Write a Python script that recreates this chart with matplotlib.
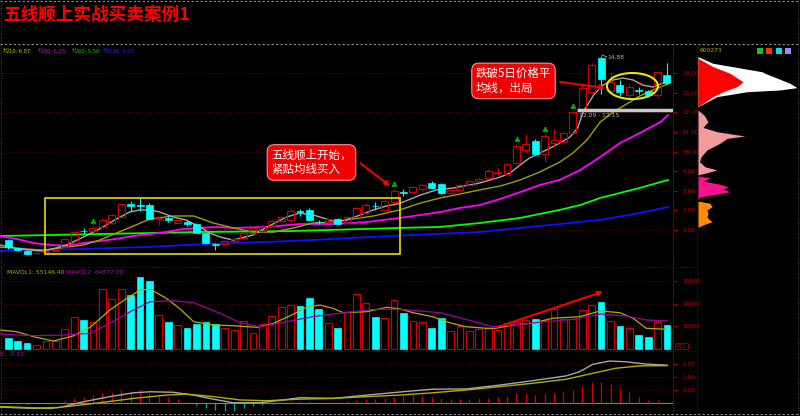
import matplotlib
matplotlib.use('Agg')
import matplotlib.pyplot as plt
from matplotlib.patches import Rectangle, Ellipse
from matplotlib.lines import Line2D

CJK = ['Noto Sans CJK SC', 'DejaVu Sans']
plt.rcParams['font.family'] = ['DejaVu Sans', 'Noto Sans CJK SC']

# ---------------- data ----------------
title = "五线顺上实战买卖案例1"
opens = [5.48,5.08,4.90,4.80,4.88,4.92,5.15,5.35,5.96,5.92,
         6.15,6.36,6.66,7.32,7.26,7.27,6.56,6.60,6.36,6.38,
         6.30,5.84,5.30,5.30,5.42,5.60,5.85,5.95,6.20,6.45,
         6.50,6.94,7.00,6.42,6.40,6.58,6.36,6.68,6.86,7.24,
         7.00,7.40,7.92,7.95,8.10,8.38,8.35,7.88,8.05,8.30,
         8.50,8.65,8.90,8.85,9.40,10.10,10.55,9.88,10.45,10.50,
         10.95,12.10,13.05,14.75,13.10,13.40,12.90,13.15,13.10,12.90,13.90]
highs = [5.55,5.12,4.95,4.88,4.98,4.98,5.58,5.95,6.10,6.20,
         6.62,6.80,7.38,7.45,7.65,7.38,6.70,6.72,6.55,6.50,
         6.35,5.86,5.35,5.48,5.60,5.90,6.15,6.20,6.50,6.70,
         7.08,7.05,7.10,6.50,6.58,6.62,6.70,7.15,7.38,7.42,
         7.50,8.10,8.10,8.25,8.35,8.52,8.40,8.05,8.35,8.55,
         8.70,9.10,9.15,9.40,10.40,10.90,10.62,10.90,11.15,11.00,
         12.05,13.40,14.50,14.88,14.05,13.65,13.50,13.30,13.15,14.10,14.50]
lows = [5.05,4.90,4.72,4.75,4.85,4.88,5.10,5.30,5.82,5.88,
        6.10,6.32,6.62,6.95,6.95,6.55,6.25,6.40,6.30,6.20,
        5.84,5.33,4.97,5.25,5.38,5.55,5.80,5.90,6.15,6.40,
        6.45,6.72,6.48,6.30,6.36,6.28,6.30,6.64,6.80,7.00,
        6.95,7.35,7.75,7.90,8.05,8.12,7.85,7.82,8.00,8.25,
        8.45,8.60,8.80,8.80,9.35,9.95,9.85,9.45,10.30,10.45,
        10.90,12.05,12.95,12.95,13.00,12.85,12.75,12.95,12.80,12.80,13.45]
closes = [5.12,4.95,4.77,4.84,4.94,4.96,5.52,5.88,5.92,6.10,
          6.50,6.76,7.30,7.24,7.20,6.56,6.62,6.52,6.48,6.32,
          5.85,5.35,5.25,5.42,5.55,5.85,6.10,6.15,6.45,6.65,
          6.95,6.90,6.50,6.38,6.55,6.32,6.66,7.10,7.25,7.20,
          7.45,8.00,7.88,8.20,8.30,8.15,7.88,8.02,8.30,8.50,
          8.62,9.00,8.95,9.35,10.30,10.40,9.85,10.80,10.60,10.95,
          12.00,13.25,14.40,13.70,13.55,13.05,13.30,13.10,12.87,14.05,13.50]
volumes = [4700,3700,2800,1800,3500,3500,8700,14200,12800,12000,
           26300,21900,26300,23800,31600,30000,15000,12000,10600,9100,
           10900,11800,11000,9100,8400,12500,7200,11000,14500,18600,
           19400,18900,22300,17600,11600,9400,16400,24200,20400,14200,
           13800,21600,16000,12500,12000,9100,13500,7900,10300,8100,
           8800,9100,8400,11300,12000,12800,13100,12800,17500,13100,
           13100,17200,19400,20600,12300,10300,9400,6200,5400,11800,10600]
macd_hist = [-0.03,-0.04,-0.04,-0.03,-0.01,0.02,0.08,0.16,0.23,0.29,
             0.36,0.42,0.49,0.42,0.49,0.36,0.25,0.20,0.12,0.03,
             -0.10,-0.23,-0.29,-0.32,-0.33,-0.23,-0.14,-0.10,-0.04,0.02,
             0.06,0.07,0.05,0.02,0.03,0.02,0.05,0.10,0.12,0.12,
             0.16,0.20,0.29,0.29,0.25,0.23,0.16,0.13,0.13,0.13,
             0.16,0.18,0.20,0.25,0.36,0.36,0.29,0.36,0.36,0.42,
             0.47,0.64,0.81,0.81,0.71,0.55,0.40,0.23,0.10,0.10,0.03]

ma5_x = [-0.9,1,2.7,3.7,5.1,6.2,8,9.7,11.5,12.9,14,15.1,16.1,17.5,18.9,20.4,21.4,22.5,23.9,
         26,27.5,29.6,31,32.4,33.8,34.9,35.9,37.4,38.8,40.2,41.6,43.8,45.5,47.3,50.1,52.3,
         53.3,54.4,55.4,56.5,57.6,58.6,59.7,60.5,61.1,62.2,63.2,64.3,65.3,66.4,67.4,68.5,69.6,70.3]
ma5_y = [5.23,5.05,4.95,4.92,5.08,5.23,5.64,6.05,6.56,6.91,7.02,7.02,6.91,6.66,6.50,6.15,5.84,5.64,5.48,
         5.74,6.15,6.66,6.86,6.76,6.56,6.40,6.51,6.76,7.02,7.22,7.35,7.78,8.04,8.14,8.39,8.70,
         8.90,9.31,9.67,9.92,10.18,10.43,10.74,11.20,12.02,12.88,13.39,13.65,13.75,13.65,13.39,13.29,13.49,13.65]
ma10_x = [-0.9,3.7,6.2,8,9.7,11.5,13.3,15.1,17.5,19.7,21.8,23.9,26,28.2,30.3,32.4,34.5,36.7,38.8,
          41.6,43.8,45.9,48,50.1,52.3,54.4,56.5,58.6,60,61.5,62.9,64.3,65.7,67.1,68.5,70.1]
ma10_y = [5.12,4.97,5.12,5.23,5.48,5.84,6.20,6.56,6.71,6.71,6.35,6.10,5.89,5.89,6.10,6.35,6.40,6.56,6.71,
          7.02,7.37,7.63,7.83,8.04,8.24,8.55,8.96,9.46,9.92,10.59,11.50,12.02,12.42,12.83,13.14,13.44]
ma30_x = [-0.9,0.9,2.7,4.4,6.2,8,9.7,11.5,13.3,15.1,16.8,18.6,20.4,22.2,23.9,27.5,31,34.5,38.1,
          41.6,43.8,45.9,48,50.1,52.3,54.4,56.5,58.6,60.8,62.9,65,67.1,69.3,70.1]
ma30_y = [5.69,5.54,5.33,5.23,5.20,5.33,5.43,5.54,5.69,5.79,5.89,6.05,6.10,6.15,6.10,6.15,6.30,6.30,6.40,
          6.61,6.76,6.91,7.12,7.27,7.58,7.93,8.29,8.55,9.06,9.72,10.43,10.94,11.50,11.86]
ma60_x = [-0.9,10,20,30,41.6,45.9,50.1,54.4,58.6,60.8,62.9,67.1,70.1]
ma60_y = [5.69,5.79,5.89,5.94,6.10,6.15,6.35,6.61,7.02,7.27,7.63,8.14,8.55]
ma120_x = [-0.9,8,15,21,30,41.6,50.1,58.6,62.9,67.1,70.1]
ma120_y = [4.92,5.03,5.13,5.28,5.43,5.71,5.89,6.30,6.51,6.86,7.17]

mavol1_x = [-0.9,0.9,2.7,4.8,6.9,8.7,10.8,12.6,14,15.1,16.8,18.3,19.7,21.8,23.9,26.4,28.2,29.9,31.7,
            33.1,34.5,35.6,38.1,40.2,41.6,43.0,45.1,46.9,48.6,50.8,51.8,53.6,55.7,57.8,60.7,62.9,
            65,66.4,67.8,70]
mavol1_y = [8370,7620,5420,3520,5730,9560,17180,22330,25990,26300,22330,17490,12030,10570,10260,9560,
            11320,14540,18370,19380,17930,15990,16430,18370,17700,15990,14230,11590,9820,9120,9120,
            10570,11320,13520,14230,16740,15990,13520,9120,8680]
mavol2_x = [-0.9,2.7,6.2,8.7,10.8,13.3,15.1,17.5,19.7,22.5,24.6,26.7,29.6,32.4,34.5,36.7,38.8,41.6,
            45.9,48.6,51.5,54.3,57.1,60,62.9,65.7,67.8,70]
mavol2_y = [6610,5860,6170,6920,11320,17180,20840,21280,20400,15730,11590,9820,12030,14230,15420,
            16430,17490,17490,15990,13080,9820,10880,12030,13080,15420,14540,12780,12330]

dif_x = [-0.9,2.7,5.5,8.0,10.8,13.3,15.1,17.5,19.7,21.8,23.9,26.7,29.2,31,34.5,38.1,41.6,45.1,48.7,
         52.2,55.7,59.3,60.7,62.1,63.9,65.7,67.8,70]
dif_y = [-0.18,-0.23,-0.19,0.03,0.23,0.38,0.42,0.40,0.29,0.13,-0.01,-0.01,0.10,0.19,0.16,0.29,0.41,
         0.52,0.53,0.68,0.85,1.04,1.20,1.49,1.62,1.59,1.50,1.46]
dea_x = [-0.9,4.4,6.2,9.7,13.3,16.8,18.9,21.8,24.6,27.5,31,34.5,38.1,41.6,45.1,48.7,52.2,55.7,59.3,
         62.1,64.6,67.1,70]
dea_y = [-0.16,-0.23,-0.16,-0.01,0.16,0.29,0.33,0.23,0.10,0.07,0.13,0.16,0.23,0.29,0.38,0.49,0.62,
         0.75,0.91,1.14,1.34,1.43,1.44]

signal_idx = [9, 41, 54, 57, 60]
price_ticks = [6, 7, 8, 9, 10, 11, 12, 13, 14]
vol_ticks = [10000, 20000, 30000]
macd_ticks = [0.5, 1.0, 1.5]

# chip distribution (price, width in px)
chip_white_p = [14.84,14.50,14.07,13.99,13.48,13.26,13.14,13.05,12.80,12.29]
chip_white_w = [0,15,64,67,92,99,82,49,19,0]
chip_red_p = [14.76,14.33,13.99,13.56,13.31,13.05,12.80,12.29]
chip_red_w = [0,15,32,45,39,25,15,0]
chip_pink_p = [12.12,11.86,11.52,11.23,11.01,10.79,10.67,10.42,10.08,9.73,9.48,9.22,9.06,8.92,8.80]
chip_pink_w = [0,6,10,5,19,47,29,22,9,3,1.5,7,19,9,0]
chip_mag_p = [8.75,8.66,8.49,8.33,8.20,8.07,7.95,7.83,7.69,7.53]
chip_mag_w = [0,12,5,22,30,25,32,19,2,0]
chip_org_p = [7.47,7.36,7.18,7.02,6.85,6.64,6.42,6.25,6.13]
chip_org_w = [0,12,14,9,10,9,14,5,0]

# ---------------- style ----------------
RED = '#d00000'
CYAN = '#00ffff'
TICK_RED = '#c00000'
GRID = '#700000'

fig = plt.figure(figsize=(8, 4.16), dpi=100, facecolor='black')

def fx(p): return p / 800.0
def fy(p): return 1 - p / 416.0

PRICE_LIM = (4.209, 15.434)
XLIM = (-0.88, 70.64)

ax = fig.add_axes([0, fy(265), fx(673), (265 - 45) / 416])
axv = fig.add_axes([0, fy(350), fx(673), (350 - 267) / 416])
axm = fig.add_axes([0, fy(413), fx(673), (413 - 352) / 416])
axc = fig.add_axes([fx(698), fy(265), fx(102), (265 - 45) / 416])

for a in (ax, axv, axm, axc):
    a.set_facecolor('black')
    for s in a.spines.values():
        s.set_visible(False)
    a.set_xticks([])
    a.set_xlim(*XLIM)
    a.yaxis.tick_right()
    a.tick_params(axis='y', colors=TICK_RED, labelsize=4.2, length=3, width=0.6, pad=4)

ax.set_ylim(*PRICE_LIM)
axv.set_ylim(-440, 36120)
axm.set_ylim(-0.41, 1.973)
axc.set_ylim(*PRICE_LIM)
axc.set_xlim(0, 102)
axc.set_yticks([])

ax.set_yticks(price_ticks)
ax.set_yticklabels(['%.2f' % t for t in price_ticks])
axv.set_yticks(vol_ticks)
axv.set_yticklabels(['%d' % t for t in vol_ticks])
axm.set_yticks(macd_ticks)
axm.set_yticklabels(['%.2f' % t for t in macd_ticks])

# grids
ax.hlines([6, 8, 10, 12, 14], *XLIM, colors=GRID, linestyles=(0, (1, 2)), lw=0.6, zorder=0)
axv.hlines(vol_ticks, *XLIM, colors=GRID, linestyles=(0, (1, 2)), lw=0.6, zorder=0)
axm.hlines(macd_ticks, *XLIM, colors=GRID, linestyles=(0, (1, 2)), lw=0.6, zorder=0)
axm.axhline(0, color='#808080', lw=0.8, zorder=1)

# MA lines
ax.plot(ma120_x, ma120_y, color='#1010ff', lw=1.3, zorder=2)
ax.plot(ma60_x, ma60_y, color='#00ff00', lw=1.3, zorder=2)
ax.plot(ma30_x, ma30_y, color='#ff00ff', lw=1.3, zorder=2)
ax.plot(ma10_x, ma10_y, color='#a0a000', lw=1.0, zorder=2)
ax.plot(ma5_x, ma5_y, color='#a8a8a8', lw=1.0, zorder=2)

# candles
n = len(opens)
for i in range(n):
    o, h, l, c = opens[i], highs[i], lows[i], closes[i]
    top, bot = max(o, c), min(o, c)
    hgt = max(top - bot, 0.04)
    if c >= o:
        ax.vlines(i, top, h, color=RED, lw=0.8, zorder=3)
        ax.vlines(i, l, bot, color=RED, lw=0.8, zorder=3)
        ax.add_patch(Rectangle((i - 0.37, bot), 0.74, hgt, fill=False, ec=RED, lw=0.8, zorder=3))
    else:
        ax.vlines(i, l, h, color=CYAN, lw=0.8, zorder=3)
        ax.add_patch(Rectangle((i - 0.37, bot), 0.74, hgt, fc=CYAN, ec=CYAN, lw=0.5, zorder=3))

for i in signal_idx:
    ax.text(i, highs[i] + 0.22, '♣', color='#00c000', fontsize=5.5, ha='center', va='center', zorder=4)

# volume
for i in range(n):
    if closes[i] >= opens[i]:
        axv.add_patch(Rectangle((i - 0.36, 0), 0.72, volumes[i], fill=False, ec=RED, lw=0.8, zorder=3))
    else:
        axv.add_patch(Rectangle((i - 0.36, 0), 0.72, volumes[i], fc=CYAN, ec=CYAN, lw=0.5, zorder=3))
axv.plot(mavol1_x, mavol1_y, color='#b0b000', lw=0.9, zorder=4)
axv.plot(mavol2_x, mavol2_y, color='#a000a0', lw=0.9, zorder=4)

# MACD
for i in range(n):
    axm.vlines(i, 0, macd_hist[i], color=(RED if macd_hist[i] >= 0 else '#00a8a8'), lw=0.9, zorder=2)
axm.plot(dif_x, dif_y, color='#a8a8a8', lw=1.0, zorder=3)
axm.plot(dea_x, dea_y, color='#b0b000', lw=1.0, zorder=3)

# chip distribution
axc.fill_betweenx(chip_white_p, 0, chip_white_w, color='white', lw=0)
axc.fill_betweenx(chip_red_p, 0, chip_red_w, color='#ff0000', lw=0)
axc.fill_betweenx(chip_pink_p, 0, chip_pink_w, color='#f49a9a', lw=0)
axc.fill_betweenx(chip_mag_p, 0, chip_mag_w, color='#ff1090', lw=0)
axc.fill_betweenx(chip_org_p, 0, chip_org_w, color='#ff8c00', lw=0)

# annotations
ax.add_patch(Rectangle((3.9, 4.76), 37.7, 2.85, fill=False, ec='#e0e000', lw=1.2, zorder=5))
ax.add_patch(Ellipse((66.33, 13.34), 5.42, 1.33, fill=False, ec='#e8e800', lw=1.5, zorder=5))
ax.hlines(12.12, 60.4, XLIM[1], color='#c8c8c8', lw=2.5, zorder=4)
ax.text(60.6, 11.82, '12.09 - 12.15', color='#b0b0b0', fontsize=4.3, va='center', zorder=6)
ax.plot([63.05, 63.6], [14.93, 14.83], color='#b0b0b0', lw=0.6, zorder=6)
ax.text(63.7, 14.80, '14.88', color='#b0b0b0', fontsize=4.3, va='center', zorder=6)

bbox = dict(boxstyle='round,pad=0.35,rounding_size=0.6', fc='#f00000', ec='#ff9090', lw=0.8)
ax.text(32.22, 9.44, '五线顺上开始，\n紧贴均线买入', color='white', fontsize=8.3,
        ha='center', va='center', multialignment='left', linespacing=1.15,
        family=CJK, bbox=bbox, zorder=7)
ax.text(53.69, 13.60, '跌破5日价格平\n均线，出局', color='white', fontsize=8.3,
        ha='center', va='center', multialignment='left', linespacing=1.15,
        family=CJK, bbox=bbox, zorder=7)
arrow = dict(arrowstyle='-|>', color='#ff0000', lw=1.4, mutation_scale=7, shrinkA=0, shrinkB=0)
ax.annotate('', xy=(40.56, 8.24), xytext=(37.4, 9.41), arrowprops=arrow, zorder=7)
ax.annotate('', xy=(63.41, 13.24), xytext=(58.63, 13.55), arrowprops=arrow, zorder=7)
axv.annotate('', xy=(63.2, 25240), xytext=(51.9, 9560), arrowprops=arrow, zorder=7)

# ---------------- frame lines & texts ----------------
def fline(xs, ys, **kw):
    fig.add_artist(Line2D([fx(x) for x in xs], [fy(y) for y in ys], transform=fig.transFigure, **kw))

fline([0, 800], [1, 1], color='#909090', lw=0.8, ls=(0, (2, 2)))
fline([0, 800], [44, 44], color='#909090', lw=0.8, ls=(0, (2, 2)))
fline([0, 800], [414, 414], color='#909090', lw=0.8, ls=(0, (2, 2)))
fline([1, 1], [0, 416], color='#606060', lw=0.6, ls=(0, (1, 2)))
fline([798, 798], [0, 416], color='#606060', lw=0.6, ls=(0, (1, 2)))
fline([673, 673], [45, 414], color='#a00000', lw=0.7, ls=(0, (2, 1)))
fline([697, 697], [45, 414], color='#800000', lw=0.7, ls=(0, (1, 1)))
fline([0, 697], [266.5, 266.5], color='#800000', lw=0.7, ls=(0, (1, 2)))
fline([0, 697], [350.5, 350.5], color='#800000', lw=0.7, ls=(0, (1, 2)))

fig.text(fx(3), fy(15), title, color='#ff0000', fontsize=12.7, fontweight='bold',
         va='center', ha='left', family=CJK)

leg = [(3, '均10: 6.07', '#c8c800'), (38, '均30: 6.25', '#e000e0'),
       (72, '均60: 5.50', '#00d000'), (103, '均120: 4.69', '#2020ff')]
for x, s, col in leg:
    fig.text(fx(x), fy(51), s, color=col, fontsize=4.3, va='center', ha='left', family=CJK)
fig.text(fx(7), fy(272), 'MAVOL1: 55146.40', color='#b0b000', fontsize=4.3, va='center')
fig.text(fx(66), fy(272), 'MAVOL2: 64877.20', color='#c000c0', fontsize=4.3, va='center')
fig.text(fx(0), fy(355), 'D: -0.12', color='#c000c0', fontsize=4.3, va='center')
fig.text(fx(676), fy(346), 'X10', color=TICK_RED, fontsize=4, va='center',
         bbox=dict(fc='black', ec=TICK_RED, lw=0.5, pad=0.6))
fig.text(fx(700), fy(51), '600273', color='#b8b800', fontsize=4.3, va='center')
for x, col in [(757, '#20c020'), (766, '#ff3000'), (776, '#00e0e0'), (785, '#9090ff')]:
    fig.add_artist(Rectangle((fx(x), fy(54)), fx(6), 6 / 416, transform=fig.transFigure,
                             fc=col, ec='none'))

fig.savefig('out.png', dpi=100, facecolor='black')
